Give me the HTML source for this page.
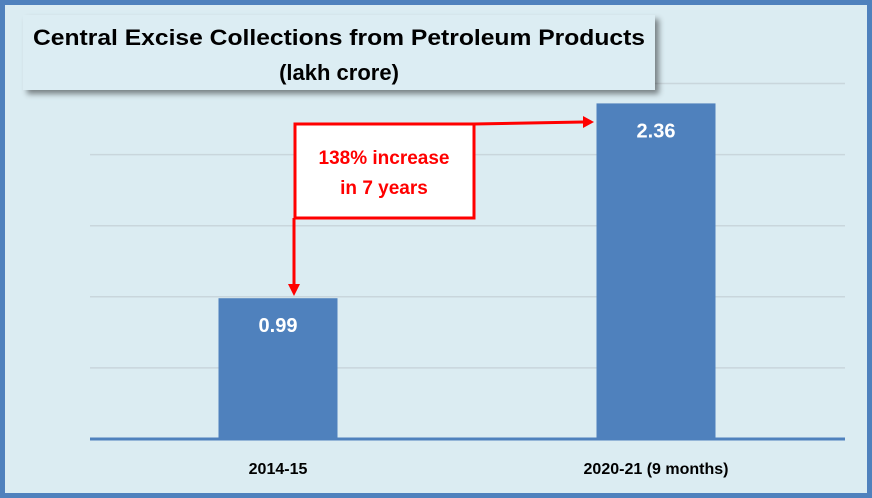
<!DOCTYPE html>
<html><head><meta charset="utf-8"><style>
html,body{margin:0;padding:0;background:#fff}
svg{display:block;font-family:"Liberation Sans",sans-serif}
</style></head><body>
<svg width="872" height="498" viewBox="0 0 872 498">
<defs><filter id="sh" x="-5%" y="-10%" width="115%" height="130%"><feDropShadow dx="4" dy="4" stdDeviation="3" flood-color="#000" flood-opacity="0.45"/></filter></defs>
<rect x="2.5" y="2.5" width="867" height="493" fill="#dbecf2" stroke="#4f81bd" stroke-width="5"/>
<g id="grid"></g>
<g id="bars"></g>
<line x1="90" y1="439" x2="845" y2="439" stroke="#4f81bd" stroke-width="3"/>
<g id="cats"></g>
<rect x="23" y="15" width="632" height="75" fill="#dcedf3" filter="url(#sh)"/>
<text x="339" y="45" text-anchor="middle" font-size="22" font-weight="bold" textLength="612" lengthAdjust="spacingAndGlyphs">Central Excise Collections from Petroleum Products</text>
<text x="339" y="80" text-anchor="middle" font-size="22" font-weight="bold">(lakh  crore)</text>
<g>
<polyline points="474,124 583,122" fill="none" stroke="#ff0000" stroke-width="3"/>
<polygon points="583,116 594,122 583,128" fill="#ff0000"/>
<polyline points="294,218 294,285" fill="none" stroke="#ff0000" stroke-width="3"/>
<polygon points="288,284 294,296 300,284" fill="#ff0000"/>
<rect x="295" y="124" width="179" height="94" fill="#fff" stroke="#ff0000" stroke-width="3"/>
<text x="384" y="164" text-anchor="middle" font-size="19" font-weight="bold" fill="#ff0000">138% increase</text>
<text x="384" y="194" text-anchor="middle" font-size="19" font-weight="bold" fill="#ff0000">in 7 years</text>
</g>
</svg>
<script>
const categories=["2014-15","2020-21 (9 months)"];
const values=[0.99,2.36];
const valueLabels=["0.99","2.36"];
const gridTicks=[0.5,1,1.5,2,2.5];
const ns="http://www.w3.org/2000/svg";
const y0=439,pxPerUnit=142.2;
const yScale=v=>y0-v*pxPerUnit;
const xCenter=i=>278+i*378;
const barW=119;
const grid=document.getElementById('grid'),bars=document.getElementById('bars'),cats=document.getElementById('cats');
gridTicks.forEach(t=>{const l=document.createElementNS(ns,'line');


l.setAttribute('x1',90);l.setAttribute('x2',845);l.setAttribute('y1',yScale(t));l.setAttribute('y2',yScale(t));
l.setAttribute('stroke','#c9d6dc');l.setAttribute('stroke-width','1.5');grid.appendChild(l);});
values.forEach((v,i)=>{const r=document.createElementNS(ns,'rect');


r.setAttribute('x',xCenter(i)-barW/2);r.setAttribute('width',barW);r.setAttribute('y',yScale(v));r.setAttribute('height',y0-yScale(v));
r.setAttribute('fill','#4f81bd');bars.appendChild(r);
const t=document.createElementNS(ns,'text');


t.setAttribute('x',xCenter(i));t.setAttribute('y',yScale(v)+34);t.setAttribute('text-anchor','middle');
t.setAttribute('font-size','20');t.setAttribute('font-weight','bold');t.setAttribute('fill','#fff');t.textContent=valueLabels[i];bars.appendChild(t);
const c=document.createElementNS(ns,'text');


c.setAttribute('x',xCenter(i));c.setAttribute('y',474);c.setAttribute('text-anchor','middle');
c.setAttribute('font-size','16');c.setAttribute('font-weight','bold');c.textContent=categories[i];cats.appendChild(c);});
</script>
</body></html>
